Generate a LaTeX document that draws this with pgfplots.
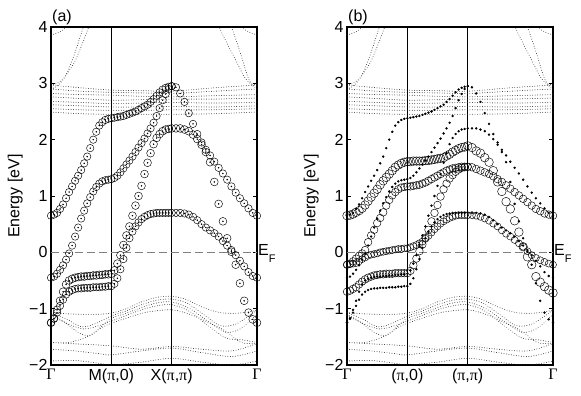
\documentclass[border=0pt]{standalone}
\usepackage{pgfplots}
\pgfplotsset{compat=1.18}
\usepackage{pgfplotstable}
\usepackage{fontspec}
\setmainfont{Liberation Sans}
\newfontfamily\symb{Liberation Serif}
\newcommand\bigfont{\fontsize{16}{19}\selectfont}

% k path: Gamma=0, M=1, X=2, Gamma=2+sqrt(2)
% dotted background bands, same in both panels (nan rows split bands)
\pgfplotstableread{
k E
0 2.97
0.5 2.92
1 2.88
1.5 2.87
2 2.86
2.7 2.92
3.414 2.97
nan nan
0 2.9
0.5 2.86
1 2.84
1.5 2.83
2 2.82
2.7 2.86
3.414 2.9
nan nan
0 2.82
0.5 2.8
1 2.79
1.5 2.77
2 2.76
2.7 2.78
3.414 2.8
nan nan
0 2.76
0.5 2.73
1 2.7
1.5 2.71
2 2.72
2.7 2.72
3.414 2.74
nan nan
0 2.68
0.5 2.66
1 2.64
1.5 2.65
2 2.66
2.7 2.65
3.414 2.66
nan nan
0 2.62
0.5 2.6
1 2.58
1.5 2.58
2 2.59
2.7 2.58
3.414 2.6
nan nan
0 2.55
0.5 2.53
1 2.52
1.5 2.52
2 2.53
2.7 2.53
3.414 2.55
nan nan
0 2.49
0.5 2.46
1 2.45
1.5 2.45
2 2.45
2.7 2.46
3.414 2.49
nan nan
0 2.97
0.1 3.0
0.2 3.08
0.3 3.22
0.4 3.4
0.5 3.65
0.6 3.93
0.625 4.0
nan nan
0 2.9
0.1 2.95
0.2 3.06
0.3 3.27
0.4 3.55
0.48 3.82
0.54 4.0
nan nan
3.414 2.97
3.3 3.0
3.2 3.12
3.1 3.33
2.96 3.62
2.82 3.92
2.79 4.0
nan nan
3.414 2.9
3.33 2.97
3.25 3.15
3.15 3.5
3.05 3.82
2.99 4.0
nan nan
0 3.86
0.1 3.89
0.2 3.95
0.26 4.0
nan nan
3.414 3.86
3.3 3.9
3.2 3.96
3.15 4.0
nan nan
0 -1.07
0.25 -1.09
0.5 -1.1
0.75 -1.1
1 -1.08
1.25 -1.0
1.5 -0.88
1.75 -0.8
2 -0.78
2.25 -0.84
2.5 -0.97
2.8 -1.07
3.1 -1.08
3.414 -1.03
nan nan
0 -1.07
0.25 -1.18
0.5 -1.32
0.7 -1.28
1 -1.13
1.25 -1.04
1.5 -0.93
1.75 -0.85
2 -0.83
2.25 -0.9
2.5 -1.08
2.8 -1.3
3.05 -1.28
3.25 -1.15
3.414 -1.03
nan nan
0 -1.1
0.2 -1.22
0.45 -1.42
0.65 -1.48
0.85 -1.3
1 -1.17
1.25 -1.08
1.5 -0.98
1.75 -0.9
2 -0.88
2.3 -1.0
2.6 -1.22
2.9 -1.42
3.15 -1.35
3.414 -1.1
nan nan
0 -1.12
0.3 -1.28
0.55 -1.36
0.8 -1.3
1 -1.22
1.25 -1.12
1.5 -1.02
1.75 -0.95
2 -0.93
2.3 -1.05
2.6 -1.3
2.9 -1.52
3.15 -1.55
3.414 -1.6
nan nan
0 -1.6
0.3 -1.6
0.6 -1.5
0.85 -1.33
1 -1.26
1.3 -1.15
1.6 -1.06
2 -1.02
2.3 -1.1
2.6 -1.24
2.9 -1.4
3.15 -1.6
3.414 -1.62
nan nan
0 -1.6
0.5 -1.63
1 -1.66
1.5 -1.72
2 -1.67
2.5 -1.72
3 -1.75
3.414 -1.62
nan nan
0 -1.72
0.4 -1.75
0.8 -1.8
1 -1.82
1.5 -1.75
2 -1.7
2.5 -1.78
3 -1.85
3.414 -1.75
nan nan
0 -1.93
0.4 -1.92
0.8 -1.97
1 -2.0
1.5 -1.95
2 -1.88
2.5 -1.95
3 -2.0
3.414 -1.93
}\bg

% weighted bands on the k grid; panel (a): a1..a4, panel (b): b1..b4
\pgfplotstableread{
k a1 a2 a3 a4 b1 b2 b3 b4
0.00 0.65 -0.45 -1.25 -1.25 -0.22 -0.70 0.65 -0.22
0.05 0.67 -0.43 -1.17 -1.18 -0.21 -0.68 0.66 -0.20
0.10 0.70 -0.38 -1.02 -1.07 -0.20 -0.65 0.68 -0.16
0.15 0.77 -0.31 -0.86 -0.95 -0.19 -0.62 0.71 -0.11
0.20 0.85 -0.23 -0.70 -0.84 -0.16 -0.57 0.74 -0.06
0.25 0.96 -0.13 -0.57 -0.75 -0.12 -0.52 0.78 -0.02
0.30 1.07 -0.02 -0.50 -0.70 -0.09 -0.48 0.84 0.04
0.35 1.17 0.12 -0.47 -0.67 -0.06 -0.45 0.91 0.18
0.40 1.27 0.28 -0.45 -0.65 -0.04 -0.43 0.98 0.30
0.45 1.36 0.44 -0.44 -0.64 -0.03 -0.41 1.05 0.40
0.50 1.46 0.60 -0.43 -0.64 -0.02 -0.40 1.12 0.52
0.55 1.58 0.74 -0.43 -0.63 0.00 -0.39 1.20 0.61
0.60 1.70 0.87 -0.42 -0.63 0.01 -0.39 1.27 0.71
0.65 1.85 0.98 -0.42 -0.63 0.02 -0.38 1.33 0.83
0.70 2.00 1.08 -0.41 -0.62 0.03 -0.38 1.39 0.93
0.75 2.14 1.16 -0.41 -0.62 0.04 -0.38 1.45 1.01
0.80 2.25 1.22 -0.40 -0.62 0.05 -0.37 1.51 1.07
0.85 2.31 1.26 -0.40 -0.61 0.06 -0.37 1.55 1.12
0.90 2.35 1.28 -0.39 -0.61 0.06 -0.37 1.58 1.15
0.95 2.37 1.29 -0.39 -0.60 0.07 -0.37 1.60 1.16
1.00 2.38 1.30 -0.38 -0.60 0.07 -0.37 1.61 1.17
1.05 2.39 1.32 -0.32 -0.56 0.09 -0.33 1.61 1.17
1.10 2.40 1.36 -0.20 -0.46 0.11 -0.23 1.62 1.18
1.15 2.41 1.42 -0.05 -0.30 0.13 -0.11 1.62 1.19
1.20 2.42 1.49 0.13 -0.12 0.16 0.02 1.62 1.20
1.25 2.44 1.56 0.30 0.08 0.19 0.14 1.62 1.22
1.30 2.46 1.63 0.46 0.25 0.24 0.26 1.63 1.24
1.35 2.48 1.70 0.65 0.37 0.29 0.40 1.63 1.27
1.40 2.50 1.78 0.83 0.46 0.35 0.55 1.64 1.30
1.45 2.53 1.86 1.00 0.53 0.41 0.70 1.65 1.33
1.50 2.56 1.94 1.18 0.59 0.46 0.84 1.66 1.36
1.55 2.59 2.02 1.39 0.63 0.51 0.99 1.67 1.39
1.60 2.62 2.11 1.59 0.66 0.55 1.12 1.68 1.42
1.65 2.67 2.20 1.76 0.68 0.58 1.22 1.71 1.45
1.70 2.72 2.30 1.92 0.69 0.61 1.31 1.74 1.47
1.75 2.78 2.42 2.03 0.70 0.63 1.37 1.78 1.49
1.80 2.84 2.56 2.10 0.70 0.65 1.43 1.81 1.50
1.85 2.89 2.70 2.15 0.70 0.66 1.47 1.84 1.51
1.90 2.92 2.81 2.18 0.70 0.66 1.50 1.86 1.52
1.95 2.94 2.90 2.19 0.70 0.66 1.51 1.87 1.52
2.000 2.95 2.95 2.20 0.70 0.66 1.52 1.89 1.52
2.071 2.93 nan 2.20 0.70 0.66 nan 1.86 1.51
2.141 2.82 nan 2.20 0.70 0.65 nan 1.80 1.48
2.212 2.67 nan 2.18 0.69 0.63 nan 1.76 1.45
2.283 2.47 nan 2.15 0.67 0.60 nan 1.68 1.42
2.354 2.28 nan 2.09 0.63 0.56 nan 1.60 1.39
2.424 2.10 nan 2.01 0.57 0.51 nan 1.45 1.35
2.495 1.95 nan 1.91 0.50 0.46 nan 1.25 1.30
2.566 1.82 nan 1.78 0.44 0.39 nan 1.08 1.25
2.636 1.72 nan 1.60 0.39 0.33 nan 0.90 1.19
2.707 1.61 nan 1.25 0.34 0.28 nan 0.77 1.13
2.778 1.50 nan 0.86 0.28 0.22 nan 0.56 1.07
2.849 1.40 nan 0.55 0.20 0.16 nan 0.36 1.01
2.919 1.29 nan 0.25 0.12 0.10 nan 0.10 0.95
2.990 1.17 nan 0.01 0.04 0.02 nan -0.08 0.89
3.061 1.06 nan -0.22 -0.05 -0.05 nan -0.22 0.83
3.131 0.96 nan -0.55 -0.15 -0.10 nan -0.43 0.77
3.202 0.87 nan -0.86 -0.25 -0.14 nan -0.53 0.73
3.273 0.78 nan -1.07 -0.35 -0.17 nan -0.61 0.69
3.343 0.70 nan -1.19 -0.42 -0.20 nan -0.67 0.67
3.414 0.65 nan -1.25 -0.45 -0.22 nan -0.72 0.65
}\bands

\pgfplotsset{
  panel/.style={
    scale only axis, width=206pt, height=338pt,
    xmin=0, xmax=3.414, ymin=-2, ymax=4,
    clip=false,
    ytick={-2,-1,0,1,2,3,4},
    yticklabels={−2,−1,0,1,2,3,4},
    xtick={0,1,2,3.414},
    tick align=inside, major tick length=4pt,
    every tick/.style={black, line width=0.6pt},
    tick label style={font=\bigfont},
    label style={font=\bigfont},
    axis line style={line width=1.2pt},
    ylabel={Energy [eV]},
    ylabel style={at={(axis description cs:-0.153,0.5)}, anchor=base},
  },
  bgband/.style={black!85, line width=0.9pt, smooth, line cap=round,
    dash pattern=on 0.01pt off 2.5pt, unbounded coords=jump},
  ring/.style={only marks, mark=o, mark size=#1, mark options={line width=0.45pt, black}},
  ringdot/.style={only marks, mark=*, mark size=0.5pt, mark options={black}},
  smalldot/.style={only marks, mark=*, mark size=1pt, mark options={black}},
}

\begin{document}
\begin{tikzpicture}[font=\bigfont]
\useasboundingbox (-51pt,-31pt) rectangle (530pt,365pt);

\begin{axis}[panel, at={(0pt,0pt)}, anchor=south west,
  xticklabels={{\symb Γ}, {M({\symb π},0)}, {X({\symb π},{\symb π})}, {\symb Γ}}]
  \addplot[black, line width=0.5pt] coordinates {(1,-2) (1,4)};
  \addplot[black, line width=0.5pt] coordinates {(2,-2) (2,4)};
  \addplot[black!50, line width=0.6pt, dash pattern=on 8pt off 4pt] coordinates {(0,0) (3.414,0)};
  \addplot[bgband] table[x=k, y=E] {\bg};
  \addplot[ring=3.7pt] table[x=k, y=a1] {\bands};
  \addplot[ring=3.7pt] table[x=k, y=a2] {\bands};
  \addplot[ring=3.9pt] table[x=k, y=a3] {\bands};
  \addplot[ring=3.7pt] table[x=k, y=a4] {\bands};
  \addplot[ringdot] table[x=k, y=a1] {\bands};
  \addplot[ringdot] table[x=k, y=a2] {\bands};
  \addplot[ringdot] table[x=k, y=a3] {\bands};
  \addplot[ringdot] table[x=k, y=a4] {\bands};
  \node[font=\bigfont, anchor=base west, inner sep=0pt] at (rel axis cs:0,1) [yshift=6pt, xshift=1pt] {(a)};
  \node[font=\bigfont, anchor=base west, inner sep=0pt] at (axis cs:3.414,-0.05) [xshift=1pt] {E\raisebox{-0.45em}{\fontsize{11}{11}\selectfont F}};
\end{axis}

\begin{axis}[panel, at={(296pt,0pt)}, anchor=south west,
  xticklabels={{\symb Γ}, {({\symb π},0)}, {({\symb π},{\symb π})}, {\symb Γ}}]
  \addplot[black, line width=0.5pt] coordinates {(1,-2) (1,4)};
  \addplot[black, line width=0.5pt] coordinates {(2,-2) (2,4)};
  \addplot[black!50, line width=0.6pt, dash pattern=on 8pt off 4pt] coordinates {(0,0) (3.414,0)};
  \addplot[bgband] table[x=k, y=E] {\bg};
  \addplot[smalldot] table[x=k, y=a1] {\bands};
  \addplot[smalldot] table[x=k, y=a2] {\bands};
  \addplot[smalldot] table[x=k, y=a3] {\bands};
  \addplot[smalldot] table[x=k, y=a4] {\bands};
  \addplot[ring=3.5pt] table[x=k, y=b1] {\bands};
  \addplot[ring=3.8pt] table[x=k, y=b2] {\bands};
  \addplot[ring=4.3pt] table[x=k, y=b3] {\bands};
  \addplot[ring=3.8pt] table[x=k, y=b4] {\bands};
  \node[font=\bigfont, anchor=base west, inner sep=0pt] at (rel axis cs:0,1) [yshift=6pt, xshift=1pt] {(b)};
  \node[font=\bigfont, anchor=base west, inner sep=0pt] at (axis cs:3.414,-0.05) [xshift=1pt] {E\raisebox{-0.45em}{\fontsize{11}{11}\selectfont F}};
\end{axis}
\end{tikzpicture}
\end{document}
